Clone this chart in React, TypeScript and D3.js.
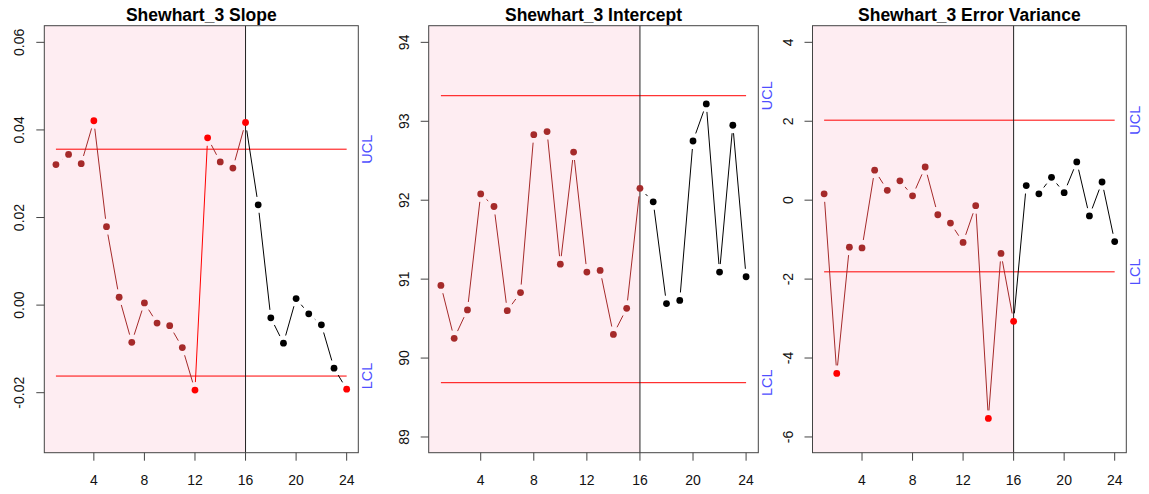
import React from "react";
import * as d3 from "d3";

// Sample index and the end of the Phase I (baseline) window
const sampleIndex = [1, 2, 3, 4, 5, 6, 7, 8, 9, 10, 11, 12, 13, 14, 15, 16, 17, 18, 19, 20, 21, 22, 23, 24];
const phaseOneEnd = 16;

// Shewhart_3 monitoring statistics
const slopeValues = [
  0.0321, 0.0344, 0.0323, 0.0421, 0.0179, 0.0018, -0.0085, 0.0005, -0.0041, -0.0047, -0.0097, -0.0194,
  0.0382, 0.0327, 0.0313, 0.0417, 0.0229, -0.0029, -0.0087, 0.0015, -0.002, -0.0045, -0.0144, -0.0192,
];
const interceptValues = [
  90.92, 90.25, 90.61, 92.08, 91.92, 90.6, 90.83, 92.83, 92.87, 91.19, 92.61, 91.09,
  91.11, 90.3, 90.63, 92.15, 91.98, 90.69, 90.73, 92.75, 93.22, 91.09, 92.95, 91.03,
];
const errorVarianceValues = [
  0.16, -4.39, -1.19, -1.21, 0.76, 0.25, 0.49, 0.11, 0.84, -0.37, -0.58, -1.07,
  -0.14, -5.53, -1.35, -3.07, 0.37, 0.16, 0.58, 0.19, 0.97, -0.4, 0.46, -1.05,
];

// Control limits
const slopeLimits = [-0.0162, 0.0356];
const interceptLimits = [89.688, 93.324];
const errorVarianceLimits = [-1.816, 2.027];

// Axis ticks
const xTicks = [4, 8, 12, 16, 20, 24];
const slopeTicks = [-0.02, 0, 0.02, 0.04, 0.06];
const slopeTickLabels = ["-0.02", "0.00", "0.02", "0.04", "0.06"];
const interceptTicks = [89, 90, 91, 92, 93, 94];
const interceptTickLabels = ["89", "90", "91", "92", "93", "94"];
const errorVarianceTicks = [-6, -4, -2, 0, 2, 4];
const errorVarianceTickLabels = ["-6", "-4", "-2", "0", "2", "4"];

const titles = ["Shewhart_3 Slope", "Shewhart_3 Intercept", "Shewhart_3 Error Variance"];

const W = 1149;
const H = 494;
const TOP = 25.7;
const BOTTOM = 452.7;
const FONT = "'Liberation Sans', Arial, Helvetica, sans-serif";
const BROWN = "#A52A2A";
const PINK = "#FEEDF2";
const LABEL_BLUE = "#4F4FFF";

type PanelSpec = {
  title: string;
  values: number[];
  limits: number[];
  yDomain: [number, number];
  ticks: number[];
  tickLabels: string[];
  left: number;
  right: number;
};

const panels: PanelSpec[] = [
  {
    title: titles[0],
    values: slopeValues,
    limits: slopeLimits,
    yDomain: [-0.0337, 0.0638],
    ticks: slopeTicks,
    tickLabels: slopeTickLabels,
    left: 44.3,
    right: 358.3,
  },
  {
    title: titles[1],
    values: interceptValues,
    limits: interceptLimits,
    yDomain: [88.801, 94.211],
    ticks: interceptTicks,
    tickLabels: interceptTickLabels,
    left: 428.7,
    right: 758.3,
  },
  {
    title: titles[2],
    values: errorVarianceValues,
    limits: errorVarianceLimits,
    yDomain: [-6.399, 4.421],
    ticks: errorVarianceTicks,
    tickLabels: errorVarianceTickLabels,
    left: 812.5,
    right: 1126.3,
  },
];

function ControlPanel({ spec }: { spec: PanelSpec }) {
  const x = d3.scaleLinear().domain([0.08, 24.92]).range([spec.left, spec.right]);
  const y = d3.scaleLinear().domain(spec.yDomain).range([BOTTOM, TOP]);
  const [lcl, ucl] = spec.limits;
  const isOut = (v: number) => v > ucl || v < lcl;
  const pts = spec.values.map((v, i) => ({ i: sampleIndex[i], v, px: x(sampleIndex[i]), py: y(v), out: isOut(v) }));

  // type="b" style: segments stop short of each point
  const gap = 8;
  const segs = [];
  for (let k = 0; k < pts.length - 1; k++) {
    const a = pts[k];
    const b = pts[k + 1];
    const dx = b.px - a.px;
    const dy = b.py - a.py;
    const len = Math.hypot(dx, dy);
    if (len <= 2 * gap) continue;
    const ux = dx / len;
    const uy = dy / len;
    const color = a.out && b.out ? "#FF0000" : a.i < phaseOneEnd ? BROWN : "#000000";
    segs.push(
      <line
        key={k}
        x1={a.px + ux * gap}
        y1={a.py + uy * gap}
        x2={b.px - ux * gap}
        y2={b.py - uy * gap}
        stroke={color}
        strokeWidth={1}
      />
    );
  }

  const x0 = x(sampleIndex[0]);
  const x1 = x(sampleIndex[sampleIndex.length - 1]);
  const cx = (spec.left + spec.right) / 2;

  return (
    <g>
      <rect x={spec.left} y={TOP} width={x(phaseOneEnd) - spec.left} height={BOTTOM - TOP} fill={PINK} />
      <line x1={x0} x2={x1} y1={y(ucl)} y2={y(ucl)} stroke="#FF0000" strokeWidth={1} />
      <line x1={x0} x2={x1} y1={y(lcl)} y2={y(lcl)} stroke="#FF0000" strokeWidth={1} />
      <line x1={x(phaseOneEnd)} x2={x(phaseOneEnd)} y1={TOP} y2={BOTTOM} stroke="#222" strokeWidth={1} />
      {segs}
      {pts.map((p) => (
        <circle
          key={p.i}
          cx={p.px}
          cy={p.py}
          r={3.4}
          fill={p.out ? "#FF0000" : p.i <= phaseOneEnd ? BROWN : "#000000"}
        />
      ))}
      <rect x={spec.left} y={TOP} width={spec.right - spec.left} height={BOTTOM - TOP} fill="none" stroke="#444" strokeWidth={1} />
      {/* x axis */}
      {xTicks.map((t) => (
        <g key={t}>
          <line x1={x(t)} x2={x(t)} y1={BOTTOM} y2={BOTTOM + 8} stroke="#444" />
          <text x={x(t)} y={485} textAnchor="middle" fontSize={14} fontFamily={FONT} fill="#111">
            {String(t)}
          </text>
        </g>
      ))}
      {/* y axis */}
      {spec.ticks.map((t, k) => (
        <g key={t}>
          <line x1={spec.left - 8} x2={spec.left} y1={y(t)} y2={y(t)} stroke="#444" />
          <text
            transform={`translate(${spec.left - 25},${y(t)}) rotate(-90)`}
            textAnchor="middle"
            dominantBaseline="central"
            fontSize={14}
            fontFamily={FONT}
            fill="#111"
          >
            {spec.tickLabels[k]}
          </text>
        </g>
      ))}
      <text x={cx} y={21} textAnchor="middle" fontSize={17.5} fontWeight="bold" fontFamily={FONT} fill="#000">
        {spec.title}
      </text>
      {[
        ["UCL", ucl],
        ["LCL", lcl],
      ].map(([lab, v]) => (
        <text
          key={lab as string}
          transform={`translate(${spec.right + 9},${y(v as number)}) rotate(-90)`}
          textAnchor="middle"
          dominantBaseline="central"
          fontSize={14.5}
          fontFamily={FONT}
          fill={LABEL_BLUE}
        >
          {lab as string}
        </text>
      ))}
    </g>
  );
}

export default function App() {
  return (
    <svg
      width={W}
      height={H}
      viewBox={`0 0 ${W} ${H}`}
      style={{ position: "absolute", left: 0, top: 0, background: "#fff" }}
    >
      <rect x={0} y={0} width={W} height={H} fill="#fff" />
      {panels.map((p) => (
        <ControlPanel key={p.title} spec={p} />
      ))}
    </svg>
  );
}
